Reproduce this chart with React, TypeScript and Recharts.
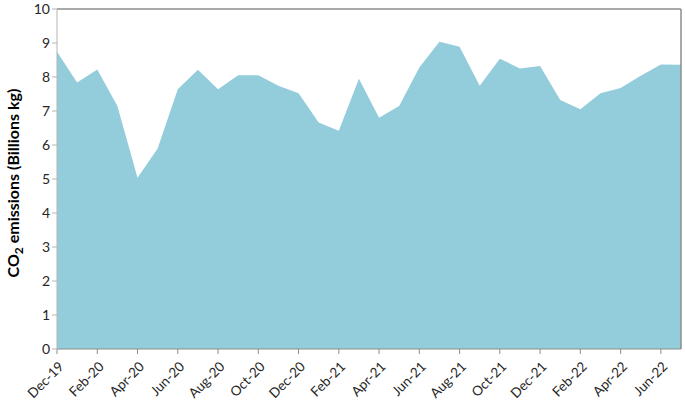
import { Area, AreaChart, ReferenceLine, XAxis, YAxis } from "recharts";

const months = [
  "Dec-19", "Jan-20", "Feb-20", "Mar-20", "Apr-20", "May-20", "Jun-20", "Jul-20",
  "Aug-20", "Sep-20", "Oct-20", "Nov-20", "Dec-20", "Jan-21", "Feb-21", "Mar-21",
  "Apr-21", "May-21", "Jun-21", "Jul-21", "Aug-21", "Sep-21", "Oct-21", "Nov-21",
  "Dec-21", "Jan-22", "Feb-22", "Mar-22", "Apr-22", "May-22", "Jun-22", "Jul-22",
];

const emissions = [
  8.74, 7.84, 8.22, 7.15, 5.04, 5.9, 7.64, 8.21,
  7.64, 8.05, 8.05, 7.74, 7.52, 6.66, 6.42, 7.95,
  6.8, 7.15, 8.28, 9.04, 8.89, 7.74, 8.54, 8.25,
  8.32, 7.32, 7.05, 7.52, 7.68, 8.04, 8.37, 8.36,
];

const yTicks = [0, 1, 2, 3, 4, 5, 6, 7, 8, 9, 10];

const data = months.map((m, i) => ({ month: m, value: emissions[i] }));

const FONT = "Lato, 'Open Sans', sans-serif";

function XTick({ x, y, payload }: any) {
  return (
    <text
      x={x + 4}
      y={y + 8}
      transform={`rotate(-45, ${x + 4}, ${y + 8})`}
      textAnchor="end"
      dominantBaseline="central"
      fontSize={13.5}
      fontFamily={FONT}
      fill="#262626"
    >
      {payload.value}
    </text>
  );
}

function YLabel() {
  return (
    <text
      x={0}
      y={0}
      transform="translate(19, 183) rotate(-90)"
      textAnchor="middle"
      fontSize={16}
      fontWeight="bold"
      fontFamily={FONT}
      fill="#000"
    >
      CO<tspan dy={4} fontSize={12}>2</tspan>
      <tspan dy={-4}> emissions (Billions kg)</tspan>
    </text>
  );
}

export default function App() {
  return (
    <div style={{ position: "absolute", left: 0, top: 0, background: "#fff" }}>
      <AreaChart
        width={685}
        height={406}
        data={data}
        margin={{ top: 9, right: 4, bottom: 0, left: 0 }}
      >
        <XAxis
          dataKey="month"
          interval={1}
          height={57}
          stroke="#8c8c8c"
          tickSize={5}
          tick={<XTick />}
        />
        <YAxis
          domain={[0, 10]}
          ticks={yTicks}
          width={57}
          stroke="#b5b5b5"
          tickSize={5}
          tick={{ fill: "#262626", fontSize: 14, fontFamily: FONT }}
          label={<YLabel />}
        />
        <Area
          type="linear"
          dataKey="value"
          stroke="none"
          fill="#93cddc"
          fillOpacity={1}
          isAnimationActive={false}
        />
        <ReferenceLine y={10} stroke="#8c8c8c" strokeWidth={1.5} />
        <ReferenceLine x="Jul-22" stroke="#8c8c8c" strokeWidth={1.5} />
      </AreaChart>
    </div>
  );
}
